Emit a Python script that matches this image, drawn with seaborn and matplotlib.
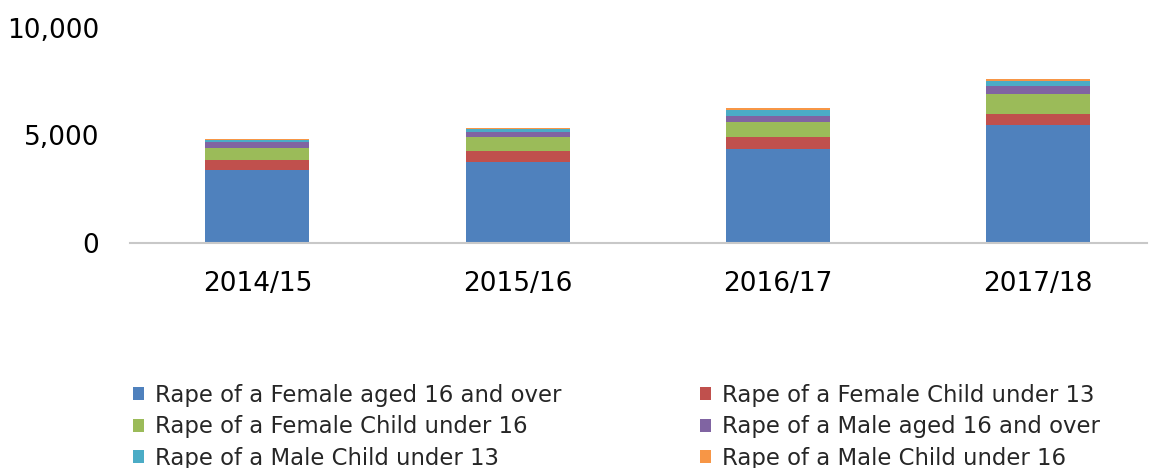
import numpy as np
import pandas as pd
import matplotlib
matplotlib.use("Agg")
import matplotlib.pyplot as plt
import seaborn as sns
from matplotlib.patches import Patch
from matplotlib.ticker import FuncFormatter

years = ["2014/15", "2015/16", "2016/17", "2017/18"]
series_names = [
    "Rape of a Female aged 16 and over",
    "Rape of a Female Child under 13",
    "Rape of a Female Child under 16",
    "Rape of a Male aged 16 and over",
    "Rape of a Male Child under 13",
    "Rape of a Male Child under 16",
]
female_16_over = [3390, 3775, 4375, 5460]
female_child_u13 = [450, 480, 545, 525]
female_child_u16 = [585, 650, 695, 940]
male_16_over = [250, 245, 290, 355]
male_child_u13 = [105, 150, 250, 220]
male_child_u16 = [65, 60, 120, 90]
colors = ["#4F81BD", "#C0504D", "#9BBB59", "#8064A2", "#4BACC6", "#F79646"]

sns.set_style("white")
plt.rcParams["font.family"] = ["DejaVu Sans"]

vals = np.array([female_16_over, female_child_u13, female_child_u16,
                 male_16_over, male_child_u13, male_child_u16])
cum = vals.cumsum(axis=0)

fig = plt.figure(figsize=(11.56, 4.68), dpi=100)
ax = fig.add_axes([130 / 1156, 0.481, 1017 / 1156, 0.46])

# stacked bars: draw cumulative totals from top layer down
for i in range(len(series_names) - 1, -1, -1):
    df = pd.DataFrame({"year": years, "value": cum[i]})
    sns.barplot(data=df, x="year", y="value", color=colors[i], width=0.4,
                saturation=1, ax=ax, edgecolor="none")

ax.set_ylim(0, 10000)
ax.set_xlim(-0.49, 3.42)
ax.set_yticks([0, 5000, 10000])
ax.yaxis.set_major_formatter(FuncFormatter(lambda v, p: f"{int(v):,}"))
ax.set_xlabel("")
ax.set_ylabel("")
for s in ["top", "right", "left"]:
    ax.spines[s].set_visible(False)
ax.spines["bottom"].set_color("#c8c8c8")
ax.spines["bottom"].set_linewidth(1.5)
ax.tick_params(axis="both", length=0, labelsize=19, colors="#000000")
ax.tick_params(axis="y", pad=22)
ax.tick_params(axis="x", pad=20)

handles = [Patch(facecolor=c, edgecolor="none") for c in colors]
order = [0, 2, 4, 1, 3, 5]
fig.legend([handles[k] for k in order], [series_names[k] for k in order],
           ncol=2, loc="upper left", bbox_to_anchor=(0.115, 0.180),
           frameon=False, fontsize=16.4, handlelength=0.5, handleheight=0.5,
           handletextpad=0.48, columnspacing=6.05, labelspacing=0.37,
           borderaxespad=0, borderpad=0)

fig.savefig("out.png", dpi=100)
